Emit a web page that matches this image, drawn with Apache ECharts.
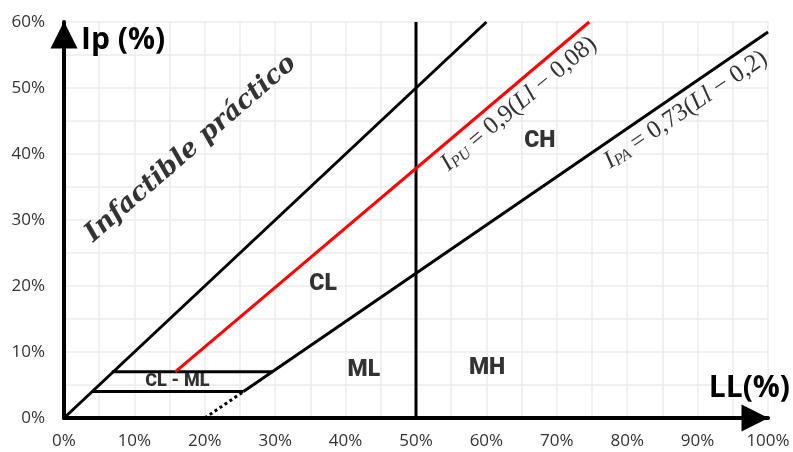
<!DOCTYPE html>
<html><head><meta charset="utf-8">
<script src="https://cdn.jsdelivr.net/npm/echarts@6/dist/echarts.min.js"></script>
<style>html,body{margin:0;padding:0;background:#fff}#c{width:793px;height:452px}</style>
</head><body><div id="c"></div>
<script>
// Axis ticks
const xTicks = [0,10,20,30,40,50,60,70,80,90,100];
const yTicks = [0,10,20,30,40,50,60];
// Lines (LL %, Ip %)
const lineIpEqLL = [[0,0],[60,60]];
const lineU = [[15.8,7],[74.6,60]];
const lineA = [[25.5,4],[100,58.5]];
const lineAdotted = [[20,0],[25.5,4]];
const line7 = [[6.8,7],[29.6,7]];
const line4 = [[4,4],[25.5,4]];
const line50 = [[50,0],[50,60]];
// Zone labels [LL, Ip, text]
const zoneLabels = [
  [67.6,42.0,'CH'],
  [36.8,20.2,'CL'],
  [42.6,7.2,'ML'],
  [60.1,7.6,'MH']
];
const smallLabels = [[16.1,5.5,'CL - ML']];
const infLabel = [[18.0,40.8,'Infactible práctico']];
const eqU = [[64.6,47.6]];
const eqA = [[88.3,46.7]];

const chart = echarts.init(document.getElementById('c'));
const lineStyle = (c, w, t) => ({color:c, width:w, type:t||'solid'});
function lineSeries(data, color, width, type) {
  return {type:'line', data:data, showSymbol:false, symbol:'none', silent:true,
    lineStyle:lineStyle(color,width,type), z:5};
}
function labelSeries(data, label) {
  return {type:'scatter', data:data, symbolSize:0, silent:true, z:10,
    itemStyle:{color:'#000'},
    label:Object.assign({show:true, position:'inside', textBorderWidth:0, formatter:p=>p.data[2]}, label)};
}
const gridCol = '#ececec';
const mathRich = {
  i:{fontFamily:'Liberation Serif', fontStyle:'italic', fontSize:25, color:'#000'},
  s:{fontFamily:'Liberation Serif', fontStyle:'italic', fontSize:16, color:'#000', verticalAlign:'bottom', padding:[9,0,0,0]},
  n:{fontFamily:'Liberation Serif', fontSize:25, color:'#000'}
};
chart.setOption({
  animation:false,
  grid:{left:64, right:25, top:22, bottom:34},
  xAxis:{type:'value', min:0, max:100, interval:10,
    name:'LL(%)', nameLocation:'end', nameGap:22,
    nameTextStyle:{fontFamily:'Open Sans', fontWeight:'bold', fontSize:30, color:'#000', align:'right', verticalAlign:'bottom', padding:[0,0,15,0]},
    axisLine:{show:true, onZero:false, lineStyle:{color:'#000', width:4}, symbol:['none','triangle'], symbolSize:[27,27], symbolOffset:[0,-13]},
    axisTick:{show:false},
    axisLabel:{formatter:v=>v+'%', fontFamily:'Open Sans', fontSize:17, color:'#333', margin:15},
    splitLine:{show:true, lineStyle:{color:gridCol, width:1.5}},
    minorTick:{show:false, splitNumber:2},
    minorSplitLine:{show:true, lineStyle:{color:gridCol, width:1.5}}
  },
  yAxis:{type:'value', min:0, max:60, interval:10,
    name:'Ip (%)', nameLocation:'end', nameGap:-18,
    nameTextStyle:{fontFamily:'Open Sans', fontWeight:'bold', fontSize:30, color:'#000', align:'left', verticalAlign:'middle', padding:[0,0,0,17]},
    axisLine:{show:true, onZero:false, lineStyle:{color:'#000', width:4}, symbol:['none','triangle'], symbolSize:[27,27], symbolOffset:[0,-13]},
    axisTick:{show:false},
    axisLabel:{formatter:v=>v+'%', fontFamily:'Open Sans', fontSize:17, color:'#333', margin:19},
    splitLine:{show:true, lineStyle:{color:gridCol, width:1.5}},
    minorTick:{show:false, splitNumber:2},
    minorSplitLine:{show:true, lineStyle:{color:gridCol, width:1.5}}
  },
  series:[
    lineSeries(lineIpEqLL,'#000',3),
    lineSeries(lineA,'#000',3),
    lineSeries(lineAdotted,'#000',3,'dotted'),
    lineSeries(line7,'#000',3),
    lineSeries(line4,'#000',3),
    lineSeries(line50,'#000',3),
    lineSeries(lineU,'#ff0000',3),
    labelSeries(zoneLabels,{fontFamily:'Roboto', fontWeight:900, fontSize:23, color:'#000'}),
    labelSeries(smallLabels,{fontFamily:'Roboto', fontWeight:900, fontSize:18, color:'#000'}),
    labelSeries(infLabel,{fontFamily:'DejaVu Serif', fontStyle:'italic', fontWeight:'bold', fontSize:26, color:'#000', rotate:41}),
    {type:'scatter', data:eqU, symbolSize:0, silent:true, z:10,
      label:{show:true, position:'inside', rotate:40, textBorderWidth:0,
        formatter:'{i|I}{s|PU}{n| = 0,9(}{i|Ll}{n| − 0,08)}', rich:mathRich}},
    {type:'scatter', data:eqA, symbolSize:0, silent:true, z:10,
      label:{show:true, position:'inside', rotate:34, textBorderWidth:0,
        formatter:'{i|I}{s|PA}{n| = 0,73(}{i|Ll}{n| − 0,2)}', rich:mathRich}}
  ]
});
</script></body></html>
